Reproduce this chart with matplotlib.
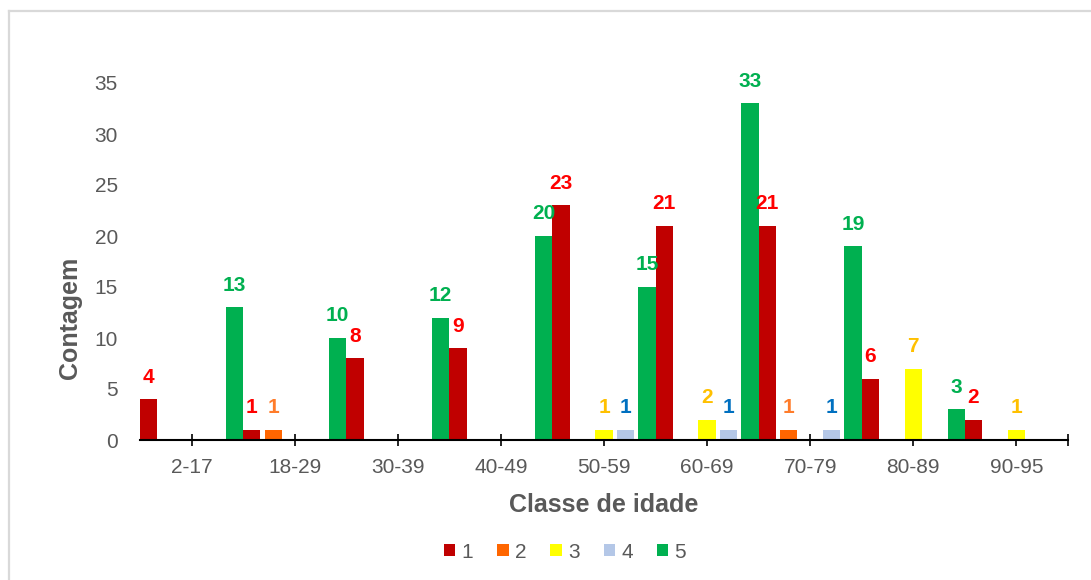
import numpy as np
import matplotlib
matplotlib.use('Agg')
import matplotlib.pyplot as plt
from matplotlib.lines import Line2D

plt.rcParams['font.family'] = ['Liberation Sans', 'DejaVu Sans']

age_classes = ['2-17', '18-29', '30-39', '40-49', '50-59', '60-69', '70-79', '80-89', '90-95']
series_names = ['1', '2', '3', '4', '5']

counts_1 = [4, 1, 8, 9, 23, 21, 21, 6, 2]
counts_2 = [0, 1, 0, 0, 0, 0, 1, 0, 0]
counts_3 = [0, 0, 0, 0, 1, 2, 0, 7, 1]
counts_4 = [0, 0, 0, 0, 1, 1, 1, 0, 0]
counts_5 = [13, 10, 12, 20, 15, 33, 19, 3, 0]

bar_colors = ['#C00000', '#FF6600', '#FFFF00', '#B4C7E7', '#00B050']
label_colors = ['#FF0000', '#FF7C2A', '#FFC000', '#0070C0', '#00B050']
gray = '#595959'


def plot():
    fig = plt.figure(figsize=(10.91, 5.80), dpi=100)
    ax = fig.add_axes([140 / 1091, 140 / 580, 928 / 1091, 357 / 580])

    x = np.arange(len(age_classes))
    all_counts = [counts_1, counts_2, counts_3, counts_4, counts_5]
    step = 0.208
    width = 0.168
    for k, vals in enumerate(all_counts):
        pos = x + (k - 2) * step
        ax.bar(pos, vals, width, color=bar_colors[k], label=series_names[k], zorder=2)
        for p, v in zip(pos, vals):
            if v == 0:
                continue
            ax.annotate(str(v), (p, v), xytext=(0, 12), textcoords='offset points',
                        ha='center', va='baseline', fontsize=15, fontweight='bold',
                        color=label_colors[k], annotation_clip=False)

    ax.set_xlim(-0.5, 8.5)
    ax.set_ylim(0, 35)
    ax.set_yticks(range(0, 36, 5))
    ax.tick_params(axis='y', length=0, pad=16, labelsize=15, labelcolor=gray)
    ax.set_xticks(list(x) + [8.5])
    ax.set_xticklabels(age_classes + [''])
    ax.tick_params(axis='x', direction='inout', length=9, width=1.2, pad=8.5,
                   labelsize=15, labelcolor=gray)
    for s in ['top', 'right', 'left']:
        ax.spines[s].set_visible(False)
    ax.spines['bottom'].set_linewidth(1.5)

    fig.text(604 / 1091, (580 - 512) / 580, 'Classe de idade', ha='center', va='baseline',
             fontsize=18, fontweight='bold', color=gray)
    fig.text(82 / 1091, 262 / 580, 'Contagem', ha='right', va='center', rotation=90,
             fontsize=18, fontweight='bold', color=gray)

    leg = fig.legend(loc='center', bbox_to_anchor=(565 / 1091, 28 / 580), ncol=5,
                     frameon=False, fontsize=15, handlelength=0.55, handleheight=0.55,
                     handletextpad=0.3, columnspacing=1.15)
    for t in leg.get_texts():
        t.set_color(gray)

    # light frame of the chart area
    fig.add_artist(Line2D([9 / 1091, 1], [1 - 11 / 580, 1 - 11 / 580],
                          transform=fig.transFigure, color='#D9D9D9', lw=1.6))
    fig.add_artist(Line2D([9 / 1091, 9 / 1091], [0, 1 - 11 / 580],
                          transform=fig.transFigure, color='#D9D9D9', lw=1.6))

    fig.savefig('out.png', dpi=100)


if __name__ == '__main__':
    plot()
